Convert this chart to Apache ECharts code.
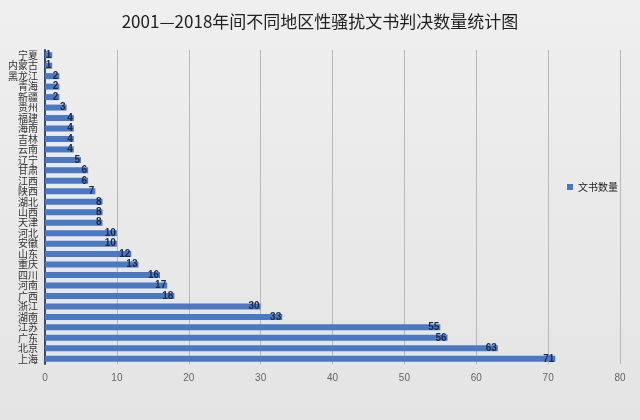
<!DOCTYPE html>
<html><head><meta charset="utf-8">
<script src="https://cdn.jsdelivr.net/npm/echarts@6/dist/echarts.min.js"></script>
<style>html,body{margin:0;padding:0;background:#eaeaea}#c{width:640px;height:420px}</style>
</head><body><div id="c"></div>
<script>
const titleText = '2001—2018年间不同地区性骚扰文书判决数量统计图';
const seriesName = '文书数量';
const regions = ['宁夏','内蒙古','黑龙江','青海','新疆','贵州','福建','海南','吉林','云南','辽宁','甘肃','江西','陕西','湖北','山西','天津','河北','安徽','山东','重庆','四川','河南','广西','浙江','湖南','江苏','广东','北京','上海'];
const counts = [1,1,2,2,2,3,4,4,4,4,5,6,6,7,8,8,8,10,10,12,13,16,17,18,30,33,55,56,63,71];
const xTicks = {min:0, max:80, interval:10};

const chart = echarts.init(document.getElementById('c'));
chart.setOption({
  backgroundColor: {type:'linear',x:0,y:0,x2:0,y2:1,colorStops:[{offset:0,color:'#efefef'},{offset:1,color:'#e4e4e4'}]},
  title: {text:titleText, left:'center', top:8, textStyle:{fontFamily:'Noto Sans CJK SC', fontSize:17, fontWeight:'normal', color:'#222'}},
  legend: {data:[seriesName], left:562, top:177, orient:'vertical', itemWidth:6, itemHeight:6, icon:'rect', textStyle:{fontFamily:'Noto Sans CJK SC', fontSize:10, color:'#222'}},
  grid: {left:45, right:20, top:50, bottom:56, containLabel:false},
  xAxis: {type:'value', min:xTicks.min, max:xTicks.max, interval:xTicks.interval,
    axisLine:{show:false}, axisTick:{show:false},
    axisLabel:{fontFamily:'Liberation Sans', fontSize:10, color:'#666', margin:9},
    splitLine:{show:true, lineStyle:{color:'#b8b8b8', width:1}}},
  yAxis: {type:'category', data:regions, inverse:true,
    axisLine:{show:true, lineStyle:{color:'#3a4a6a', width:2}}, axisTick:{show:false},
    axisLabel:{fontFamily:'Noto Sans CJK SC', fontSize:10, color:'#333', margin:7, interval:0}},
  series: [{name:seriesName, type:'bar', data:counts, barWidth:6,
    itemStyle:{color:'#4a78c4'},
    label:{show:true, position:'insideRight', distance:1, fontFamily:'Liberation Sans', fontSize:10, fontWeight:'bold', color:'#1a2a4a'}}]
});
</script></body></html>
